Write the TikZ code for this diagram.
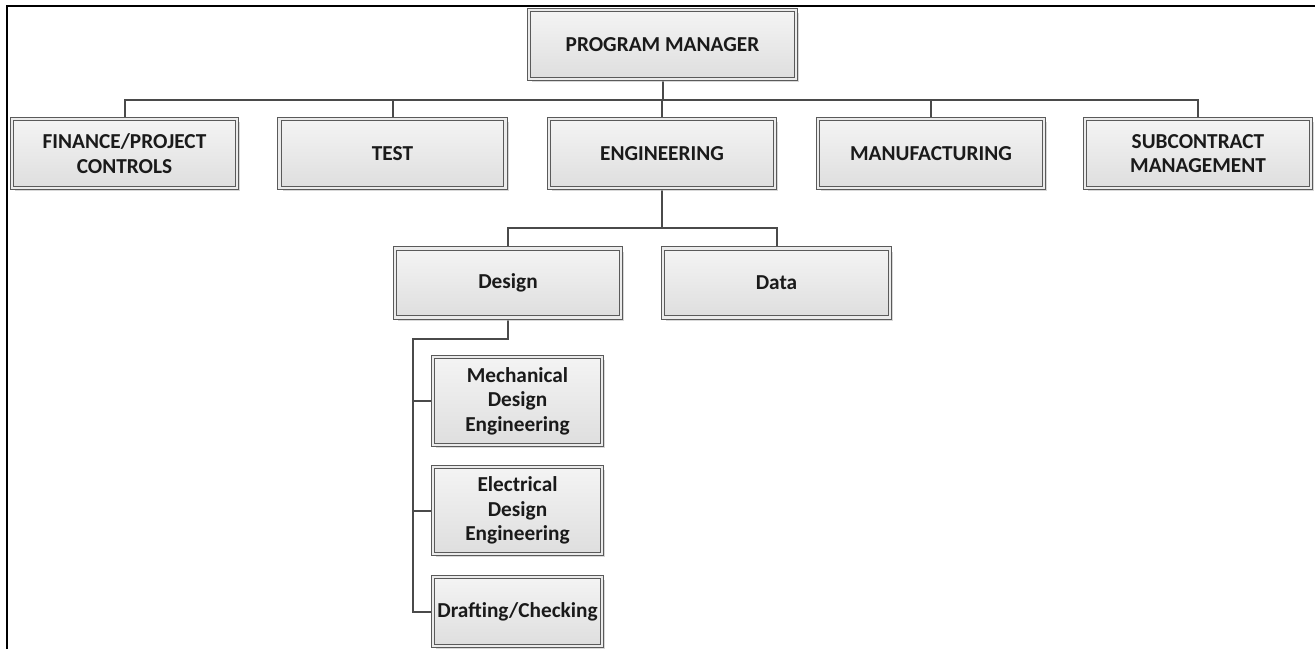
\documentclass[tikz,border=0pt]{standalone}
\usepackage{fontspec}
\setmainfont{Carlito}
\usetikzlibrary{shadows}
\definecolor{linegray}{HTML}{4A4A4A}
\definecolor{boxedge}{HTML}{5A5A5A}
\definecolor{txt}{HTML}{1A1A1A}
\definecolor{ftop}{HTML}{F4F4F4}
\definecolor{fbot}{HTML}{DEDEDE}
\pgfdeclarelayer{bg}
\pgfsetlayers{bg,main}
\tikzset{
  orgbox/.style={rectangle, draw=boxedge, line width=1pt, double=ftop!60!fbot, double distance=2.4pt,
    top color=ftop, bottom color=fbot, text=txt, align=center, inner sep=0pt,
    font=\fontsize{21.3}{24.4}\selectfont\bfseries,
    drop shadow={shadow xshift=3pt, shadow yshift=-3pt, fill=black!25, opacity=0.6}},
  conn/.style={draw=linegray, line width=2pt},
}
\begin{document}
\begin{tikzpicture}[x=1pt,y=-1pt]
\useasboundingbox (0,0) rectangle (1315,649);
\begin{pgfonlayer}{bg}
\fill[white] (0,0) rectangle (1315,649);
\end{pgfonlayer}
\draw[line width=2pt, black] (7,649) -- (7,6) -- (1315,6);

\node[orgbox, minimum width=267pt, minimum height=69pt] (pm) at (662.5,44.5) {PROGRAM MANAGER};

\node[orgbox, minimum width=225pt, minimum height=69pt, text width=222pt] (fin) at (124.5,153.5) {FINANCE/PROJECT\\CONTROLS};
\node[orgbox, minimum width=226pt, minimum height=69pt] (test) at (392.5,153.5) {TEST};
\node[orgbox, minimum width=226pt, minimum height=69pt] (eng) at (662,153.5) {ENGINEERING};
\node[orgbox, minimum width=226pt, minimum height=69pt] (manuf) at (931,153.5) {MANUFACTURING};
\node[orgbox, minimum width=226pt, minimum height=69pt, text width=222pt] (sub) at (1198,153.5) {SUBCONTRACT\\MANAGEMENT};

\node[orgbox, minimum width=226pt, minimum height=69pt] (design) at (508,283) {Design};
\node[orgbox, minimum width=227pt, minimum height=69pt] (data) at (776.5,283) {Data};

\node[orgbox, minimum width=169pt, minimum height=88pt, text width=166pt] (mech) at (517.5,401) {Mechanical\\Design\\Engineering};
\node[orgbox, minimum width=169pt, minimum height=87pt, text width=166pt] (elec) at (517.5,510.5) {Electrical\\Design\\Engineering};
\node[orgbox, minimum width=169pt, minimum height=69pt, text width=169pt] (draft) at (517.5,611.5) {Drafting/Checking};

\coordinate (bar1) at (0,99.5);
\coordinate (bar2) at (0,228);
\coordinate (sp) at (413,339);

\begin{pgfonlayer}{bg}
\draw[conn] (pm.south) -- (pm.south |- bar1);
\draw[conn] (fin.north) |- (bar1 -| sub.north) -- (sub.north);
\draw[conn] (test.north) -- (test.north |- bar1);
\draw[conn] (eng.north) -- (eng.north |- bar1);
\draw[conn] (manuf.north) -- (manuf.north |- bar1);

\draw[conn] (eng.south) -- (eng.south |- bar2);
\draw[conn] (design.north) |- (bar2 -| data.north) -- (data.north);

\draw[conn] (design.south) |- (sp) -- (sp |- draft.west) -- (draft.west);
\draw[conn] (sp |- mech.west) -- (mech.west);
\draw[conn] (sp |- elec.west) -- (elec.west);
\end{pgfonlayer}
\end{tikzpicture}
\end{document}
